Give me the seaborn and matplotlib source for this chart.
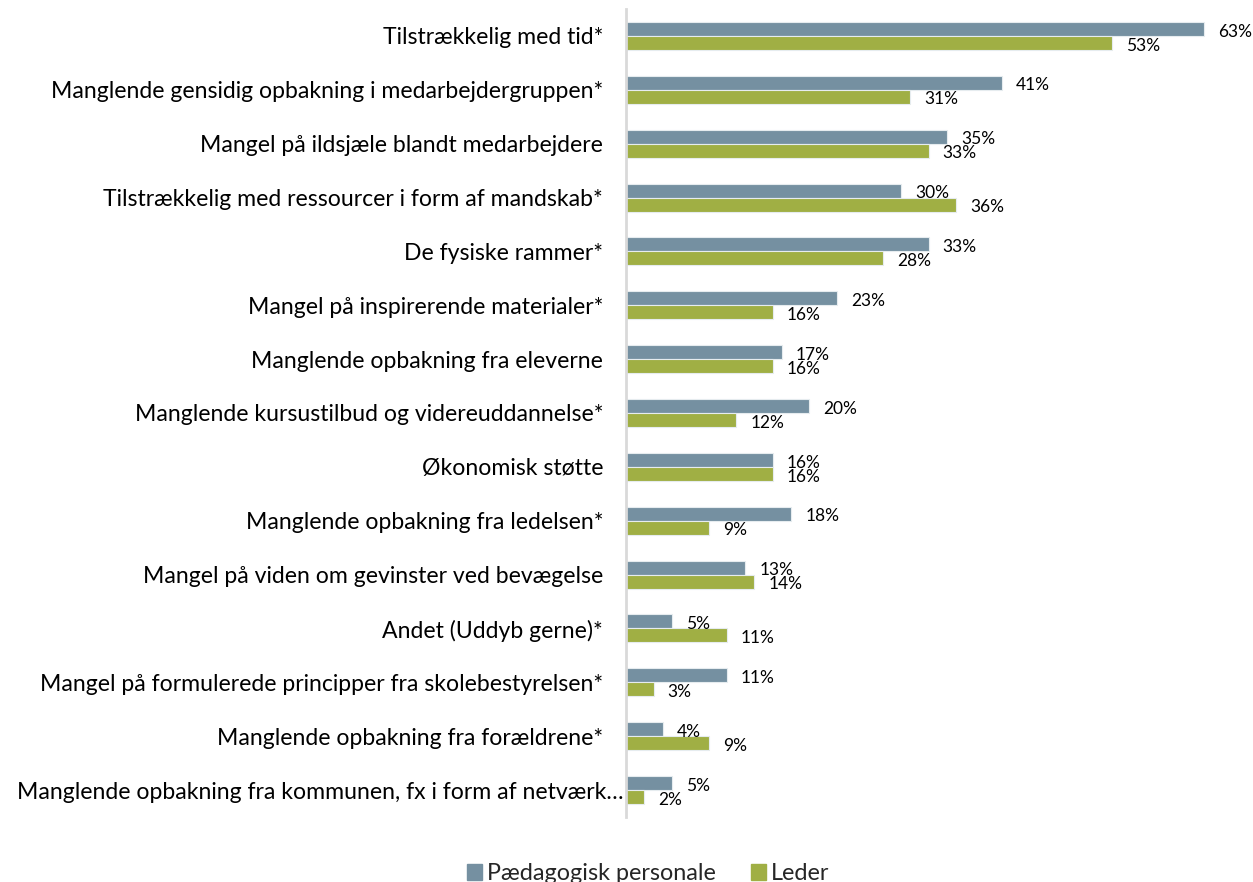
import matplotlib
matplotlib.use("Agg")
import matplotlib.pyplot as plt
import matplotlib.transforms as mtransforms
import seaborn as sns
import pandas as pd

categories = [
    "Tilstrækkelig med tid*",
    "Manglende gensidig opbakning i medarbejdergruppen*",
    "Mangel på ildsjæle blandt medarbejdere",
    "Tilstrækkelig med ressourcer i form af mandskab*",
    "De fysiske rammer*",
    "Mangel på inspirerende materialer*",
    "Manglende opbakning fra eleverne",
    "Manglende kursustilbud og videreuddannelse*",
    "Økonomisk støtte",
    "Manglende opbakning fra ledelsen*",
    "Mangel på viden om gevinster ved bevægelse",
    "Andet (Uddyb gerne)*",
    "Mangel på formulerede principper fra skolebestyrelsen*",
    "Manglende opbakning fra forældrene*",
    "Manglende opbakning fra kommunen, fx i form af netværk…",
]
paedagogisk = [63, 41, 35, 30, 33, 23, 17, 20, 16, 18, 13, 5, 11, 4, 5]
leder = [53, 31, 33, 36, 28, 16, 16, 12, 16, 9, 14, 11, 3, 9, 2]
series_names = ["Pædagogisk personale", "Leder"]
colors = ["#7590A1", "#A0AF44"]

df = pd.concat([
    pd.DataFrame({"kategori": categories, "andel": paedagogisk, "gruppe": series_names[0]}),
    pd.DataFrame({"kategori": categories, "andel": leder, "gruppe": series_names[1]}),
])

sns.set_theme(style="white")
plt.rcParams["font.family"] = ["Lato", "DejaVu Sans"]

fig = plt.figure(figsize=(12.53, 8.82), dpi=100)
ax = fig.add_axes([626 / 1253, 1 - 817 / 882, (1231 - 626) / 1253, (817 - 9) / 882])

sns.barplot(data=df, x="andel", y="kategori", hue="gruppe", orient="h",
            order=categories, hue_order=series_names, palette=colors, saturation=1,
            width=0.52, edgecolor="#E6ECEF", linewidth=0.8, ax=ax, legend=False)

ax.set_xlim(0, 66)
ax.set_ylim(len(categories) - 0.5, -0.5)
ax.set_xlabel("")
ax.set_ylabel("")
ax.set_xticks([])
ax.tick_params(axis="y", length=0, pad=16.5, labelsize=16.6, labelcolor="#000000")
for side in ["top", "right", "bottom"]:
    ax.spines[side].set_visible(False)
ax.spines["left"].set_color("#D9D9D9")
ax.spines["left"].set_linewidth(2)

# the truncated last label sits closer to the axis
last = ax.get_yticklabels()[-1]
last.set_transform(last.get_transform() +
                   mtransforms.ScaledTranslation(20 / 100, 0, fig.dpi_scale_trans))

# value labels at the end of each bar, slightly below the bar centre
for container in ax.containers:
    for patch in container:
        val = patch.get_width()
        yc = patch.get_y() + patch.get_height() / 2
        ax.text(val + 1.55, yc + 0.05, f"{val:.0f}%", ha="left", va="center",
                fontsize=12.5, color="#000000", clip_on=False)

handles = [plt.Rectangle((0, 0), 1, 1, color=c) for c in colors]
fig.legend(handles, series_names, loc="lower center", bbox_to_anchor=(0.517, -0.026),
           ncol=2, frameon=False, fontsize=16.8, handlelength=0.65, handleheight=0.65,
           handletextpad=0.2, columnspacing=1.5)

fig.savefig("out.png", dpi=100)
